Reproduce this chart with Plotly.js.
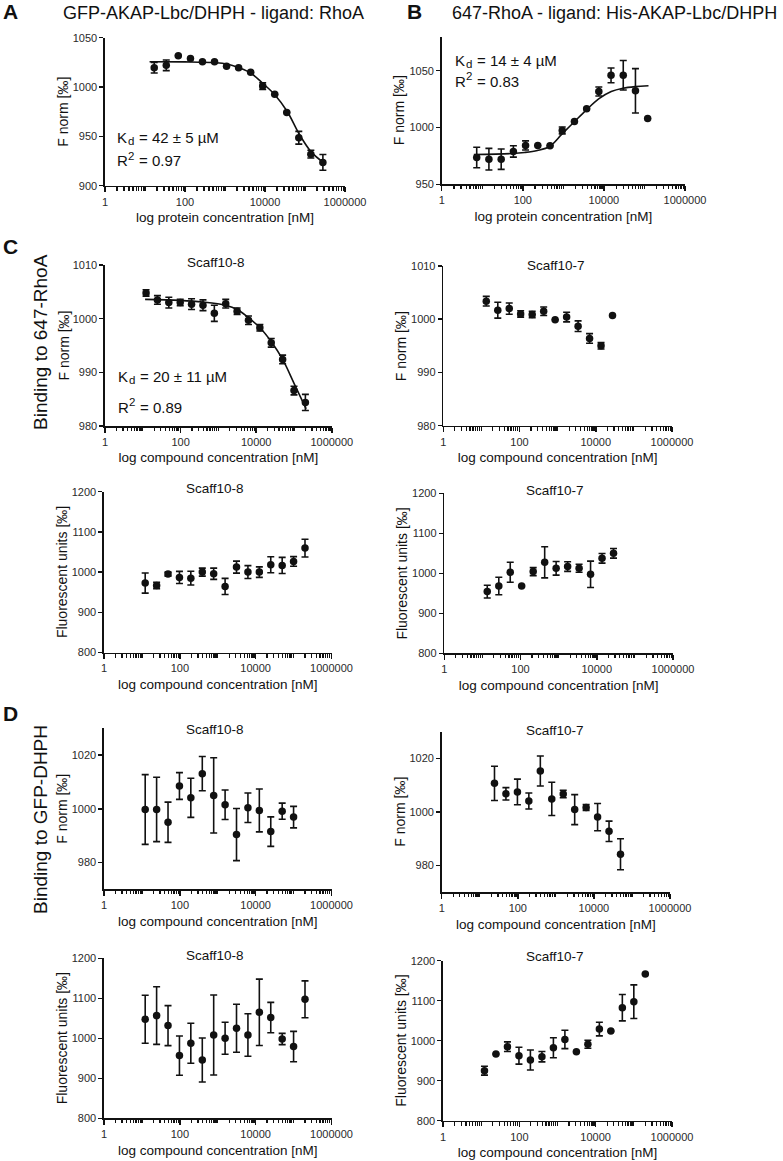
<!DOCTYPE html>
<html>
<head>
<meta charset="utf-8">
<script src="https://cdn.plot.ly/plotly-3.0.1.min.js"></script>
<style>html,body{margin:0;padding:0;background:#fff;}#chart{width:783px;height:1161px;}</style>
</head>
<body>
<div id="chart"></div>
<script>
// ---------- Data ----------
// Panel A: GFP-AKAP-Lbc/DHPH - ligand: RhoA
const concA  = [17, 34, 68, 137, 273, 547, 1094, 2188, 4375, 8750, 17500, 35000, 70000, 140000, 280000];
const fnormA = [1019.6, 1022, 1031.8, 1029, 1025.7, 1025.7, 1021, 1019.6, 1014.9, 1001, 992.6, 974.3, 948.6, 932, 923.6];
const errA   = [5.4, 5.4, 0, 0, 0, 0, 0, 0, 0, 3.4, 0, 0, 6.5, 4, 8];
const fitAx  = [13, 100, 562, 1122, 2239, 4467, 8913, 17783, 36308, 72444, 144544, 300000];
const fitAy  = [1025.7, 1025.5, 1024.7, 1023.3, 1019.5, 1014, 1003.5, 992, 975, 952, 934, 923];

// Panel B: 647-RhoA - ligand: His-AKAP-Lbc/DHPH
const concB  = [7.3, 14.6, 29.3, 58.6, 117, 234, 469, 938, 1875, 3750, 7500, 15000, 30000, 60000, 120000];
const fnormB = [973.6, 972.1, 972.1, 978.9, 984.2, 984.2, 983.9, 997.4, 1005.3, 1016.4, 1031.7, 1045.9, 1046, 1032.3, 1007.9];
const errB   = [9, 9.5, 9, 5, 4, 0, 0, 3, 0, 0, 4, 6.5, 13, 19.5, 0];
const fitBx  = [6.2, 56, 110, 229, 457, 933, 1862, 3715, 7413, 15136, 29512, 58884, 125893];
const fitBy  = [976.2, 977.1, 978, 979.8, 983.3, 994.4, 1005, 1015.5, 1025.2, 1031.7, 1034.6, 1036, 1036.7];

// Compound concentrations
const concScaff8   = [12.2, 24.4, 48.8, 97.7, 195, 391, 781, 1563, 3125, 6250, 12500, 25000, 50000, 100000, 200000];
const concScaff7   = [13.4, 26.9, 53.7, 107, 215, 430, 859, 1719, 3438, 6875, 13750, 27500];
const concScaff8D  = [12.2, 24.4, 48.8, 97.7, 195, 391, 781, 1563, 3125, 6250, 12500, 25000, 50000, 100000];
const concScaff7D  = [24.4, 48.8, 97.7, 195, 391, 781, 1563, 3125, 6250, 12500, 25000, 50000];
const concScaff7DF = [12.2, 24.4, 48.8, 97.7, 195, 391, 781, 1563, 3125, 6250, 12500, 25000, 50000, 100000, 200000];

// Panel C: binding to 647-RhoA
const fnormC8 = [1004.8, 1003.5, 1003, 1003, 1002.7, 1002.5, 1001, 1002.8, 1001.4, 999.7, 998.3, 995.5, 992.4, 986.6, 984.4];
const errC8   = [0.6, 0.8, 1, 0.6, 1, 1, 1.5, 0.8, 0.6, 0.8, 0.6, 0.8, 0.8, 0.8, 1.5];
const fitC8x  = [11.5, 95.5, 380, 1549, 3162, 6166, 12589, 25704, 50119, 102329, 208930];
const fitC8y  = [1003.6, 1003.4, 1003.1, 1002.5, 1001.7, 1000.2, 998.3, 995.6, 992.4, 987.8, 983.2];
const fnormC7 = [1003.4, 1001.7, 1002.0, 1001.0, 1000.9, 1001.5, 999.9, 1000.4, 998.7, 996.4, 995.0, 1000.7];
const errC7   = [0.9, 1.5, 1.05, 0.6, 0.6, 0.8, 0, 0.9, 1.0, 0.9, 0.6, 0];
const fluC8   = [972.6, 966.8, 995, 986.7, 985, 1000, 995.9, 964.3, 1012.4, 1000, 1000, 1018.2, 1016.6, 1026.5, 1059.7];
const errFC8  = [25, 8, 5, 15, 17, 10, 14, 20, 15, 16, 13, 20, 20, 12, 22];
const fluC7   = [954.2, 968.3, 1002.5, 968.3, 1004.2, 1027.5, 1012.5, 1016.7, 1012.5, 997.5, 1037.5, 1050];
const errFC7  = [16, 22, 25, 0, 10, 39, 17, 12, 10, 33, 12, 12];

// Panel D: binding to GFP-DHPH
const fnormD8 = [999.75, 999.75, 995, 1008.5, 1004.1, 1013.1, 1005, 1001.5, 990.4, 1000.4, 999.4, 991.5, 999.1, 996.9];
const errD8   = [13, 12, 7.5, 5, 7.3, 6.4, 14, 5.5, 9.7, 5.5, 8, 5.5, 3, 4];
const fnormD7 = [1010.7, 1006.8, 1007.5, 1004.1, 1015.3, 1004.9, 1006.7, 1000.9, 1001.7, 998.1, 992.8, 984.2];
const errD7   = [6.4, 2.3, 4.8, 3, 5.6, 6.2, 1.4, 5.6, 1.1, 5.1, 3.8, 5.8];
const fluD8   = [1047.5, 1056.7, 1031.7, 956.7, 987.5, 945.8, 1008.3, 1000, 1025, 1008.3, 1065, 1051.7, 998.3, 979.2, 1097.5];
const errFD8  = [60, 72, 50, 49, 50, 55, 100, 40, 60, 53, 83, 38, 14, 38, 46];
const fluD7   = [925, 966.7, 985, 962.5, 951.7, 960, 982.5, 1003.3, 972.5, 991, 1029, 1024, 1082.5, 1097.5, 1166.7];
const errFD7  = [11, 0, 12, 21, 25, 13, 25, 23, 0, 10, 17, 0, 33, 42, 0];

// Tick labels (labelled decades) and unlabelled decade ticks
const xTickVals = [1, 100, 10000, 1000000];
const xTickText = ['1', '100', '10000', '1000000'];
const xOddDecades = [10, 1000, 100000];

// ---------- Figure ----------
const W = 783, H = 1161;
const FONT = 'Liberation Sans, Arial, Helvetica, sans-serif';
const INK = '#111';

const minorVals = xOddDecades.slice();
for (let d = 0; d < 6; d++) for (let m = 2; m <= 9; m++) minorVals.push(m * Math.pow(10, d));

const panels = [
  {x: concA, y: fnormA, e: errA, fx: fitAx, fy: fitAy, px: [105, 345, 37.7, 185.7], yr: [900, 1050], yt: [900, 950, 1000, 1050], yl: 'F norm [‰]', xl: 'log protein concentration [nM]'},
  {x: concB, y: fnormB, e: errB, fx: fitBx, fy: fitBy, px: [441.7, 685, 36.6, 184.3], yr: [950, 1080], yt: [950, 1000, 1050], yl: 'F norm [‰]', xl: 'log protein concentration [nM]'},
  {x: concScaff8, y: fnormC8, e: errC8, fx: fitC8x, fy: fitC8y, px: [105, 331.8, 265, 426], yr: [980, 1010], yt: [980, 990, 1000, 1010], yl: 'F norm [‰]', xl: 'log compound concentration [nM]'},
  {x: concScaff7, y: fnormC7, e: errC7, px: [443.3, 672, 266, 425.7], yr: [980, 1010], yt: [980, 990, 1000, 1010], yl: 'F norm [‰]', xl: 'log compound concentration [nM]'},
  {x: concScaff8, y: fluC8, e: errFC8, px: [104, 331.5, 491.7, 652.5], yr: [800, 1200], yt: [800, 900, 1000, 1100, 1200], yl: 'Fluorescent units [‰]', xl: 'log compound concentration [nM]'},
  {x: concScaff7, y: fluC7, e: errFC7, px: [444.3, 673, 493.3, 653.3], yr: [800, 1200], yt: [800, 900, 1000, 1100, 1200], yl: 'Fluorescent units [‰]', xl: 'log compound concentration [nM]'},
  {x: concScaff8D, y: fnormD8, e: errD8, px: [104, 331.5, 728.3, 889.3], yr: [970, 1030], yt: [980, 1000, 1020], yl: 'F norm [‰]', xl: 'log compound concentration [nM]'},
  {x: concScaff7D, y: fnormD7, e: errD7, px: [441.7, 670, 731.7, 892.3], yr: [970, 1030], yt: [980, 1000, 1020], yl: 'F norm [‰]', xl: 'log compound concentration [nM]'},
  {x: concScaff8, y: fluD8, e: errFD8, px: [104, 331.5, 958.3, 1118.3], yr: [800, 1200], yt: [800, 900, 1000, 1100, 1200], yl: 'Fluorescent units [‰]', xl: 'log compound concentration [nM]'},
  {x: concScaff7DF, y: fluD7, e: errFD7, px: [443, 672, 960.7, 1120.7], yr: [800, 1200], yt: [800, 900, 1000, 1100, 1200], yl: 'Fluorescent units [‰]', xl: 'log compound concentration [nM]'}
];

const traces = [];
const layout = {
  width: W, height: H,
  margin: {l: 0, r: 0, t: 0, b: 0},
  paper_bgcolor: '#fff', plot_bgcolor: 'rgba(0,0,0,0)',
  showlegend: false,
  font: {family: FONT, color: INK},
  annotations: []
};

function ann(text, xpx, ypx, size, opts) {
  layout.annotations.push(Object.assign({
    text: text, xref: 'paper', yref: 'paper', x: xpx / W, y: 1 - ypx / H,
    xanchor: 'center', yanchor: 'middle', showarrow: false,
    font: {size: size, color: INK, family: FONT}
  }, opts || {}));
}

panels.forEach((p, i) => {
  const n = i + 1;
  const xa = n === 1 ? 'x' : 'x' + n;
  const ya = n === 1 ? 'y' : 'y' + n;
  if (p.fx) {
    traces.push({type: 'scatter', mode: 'lines', x: p.fx, y: p.fy, xaxis: xa, yaxis: ya,
      line: {color: INK, width: 1.6, shape: 'spline', smoothing: 1}, hoverinfo: 'skip'});
  }
  traces.push({type: 'scatter', mode: 'markers', x: p.x, y: p.y, xaxis: xa, yaxis: ya,
    marker: {color: INK, size: 7.5},
    error_y: {type: 'data', array: p.e, visible: true, color: INK, thickness: 1.6, width: 3.5}});
  const [x0, x1, y0, y1] = p.px;
  layout['xaxis' + (n === 1 ? '' : n)] = {
    domain: [x0 / W, x1 / W], anchor: ya, type: 'log', range: [0, 6],
    tickmode: 'array', tickvals: xTickVals, ticktext: xTickText,
    ticks: 'outside', ticklen: 5, tickwidth: 1.5, tickcolor: INK,
    minor: {tickmode: 'array', tickvals: minorVals, ticks: 'outside', ticklen: 3.5, tickwidth: 1.2, tickcolor: INK, showgrid: false},
    showline: true, linewidth: 1.6, linecolor: INK, showgrid: false, zeroline: false,
    tickfont: {size: 11, color: '#2a2a2a', family: FONT},
    title: {text: p.xl, font: {size: 13.5, color: INK, family: FONT}, standoff: 6},
    automargin: false, fixedrange: true
  };
  layout['yaxis' + (n === 1 ? '' : n)] = {
    domain: [1 - y1 / H, 1 - y0 / H], anchor: xa, range: p.yr,
    tickmode: 'array', tickvals: p.yt,
    ticks: 'outside', ticklen: 4, tickwidth: 1.5, tickcolor: INK,
    showline: true, linewidth: 1.6, linecolor: INK, showgrid: false, zeroline: false,
    tickfont: {size: 11, color: '#2a2a2a', family: FONT},
    automargin: false, fixedrange: true
  };
  // y-axis title, placed as a rotated text left of the tick labels
  ann(p.yl, x0 - 42, (y0 + y1) / 2, 14, {textangle: -90});
});

// Panel letters
ann('<b>A</b>', 10, 12, 21);
ann('<b>B</b>', 415, 12, 21);
ann('<b>C</b>', 10, 246, 21);
ann('<b>D</b>', 10, 714, 21);
// Panel titles
ann('GFP-AKAP-Lbc/DHPH - ligand: RhoA', 213, 13, 18);
ann('647-RhoA - ligand: His-AKAP-Lbc/DHPH', 614, 13, 18);
// Row labels
ann('Binding to 647-RhoA', 40, 342, 19, {textangle: -90});
ann('Binding to GFP-DHPH', 40, 820, 19, {textangle: -90});
// Subplot titles
ann('Scaff10-8', 216, 263, 13.5);
ann('Scaff10-7', 556, 265, 13.5);
ann('Scaff10-8', 215, 488, 13.5);
ann('Scaff10-7', 555, 490, 13.5);
ann('Scaff10-8', 215, 729, 13.5);
ann('Scaff10-7', 555, 730, 13.5);
ann('Scaff10-8', 215, 955, 13.5);
ann('Scaff10-7', 555, 956, 13.5);

// Fit statistics: "K" + subscript "d" + rest, "R" + superscript "2" + rest
function kd(xpx, ypx, rest) {
  ann('K', xpx, ypx, 15, {xanchor: 'left'});
  ann('d', xpx + 10.5, ypx + 4, 11.5, {xanchor: 'left'});
  ann('= ' + rest, xpx + 21.5, ypx, 15, {xanchor: 'left'});
}
function r2(xpx, ypx, rest) {
  ann('R', xpx, ypx, 15, {xanchor: 'left'});
  ann('2', xpx + 10.8, ypx - 5, 11.5, {xanchor: 'left'});
  ann('= ' + rest, xpx + 21.5, ypx, 15, {xanchor: 'left'});
}
kd(115, 137, '42 ± 5 µM');
r2(115, 161, '0.97');
kd(453, 60, '14 ± 4 µM');
r2(453, 81, '0.83');
kd(116, 376, '20 ± 11 µM');
r2(116, 407, '0.89');

Plotly.newPlot('chart', traces, layout, {staticPlot: true, displayModeBar: false});
</script>
</body>
</html>
